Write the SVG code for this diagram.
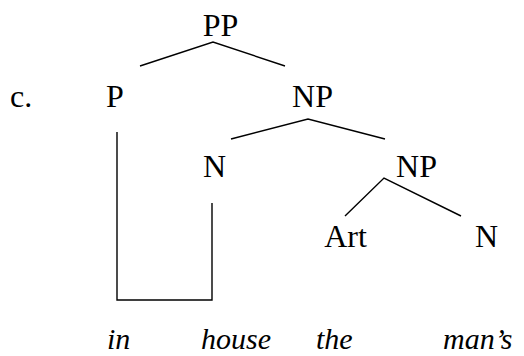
<svg xmlns="http://www.w3.org/2000/svg" width="524" height="356" viewBox="0 0 524 356">
<style>
.lbl{font-family:"Liberation Serif","Times New Roman",serif;font-size:32px;fill:#000;text-anchor:middle}
.w{font-family:"Liberation Serif","Times New Roman",serif;font-size:30px;font-style:italic;fill:#000}
.e{fill:none;stroke:#000;stroke-width:1.4}
</style>
<rect width="524" height="356" fill="#fff"/>
<g id="edges">
<polyline class="e" points="140,66 213,42 285,66"/>
<polyline class="e" points="231,139 308,119 385,139"/>
<polyline class="e" points="345,216 384,178 461,216"/>
<polyline class="e" points="117,132 117,300 212,300 212,203"/>
</g>
<g id="label-c"><text x="10" y="107" style="font-family:'Liberation Serif','Times New Roman',serif;font-size:32px">c.</text></g>
<g id="PP"><text class="lbl" x="220.5" y="36">PP</text></g>
<g id="P"><text class="lbl" x="115" y="107">P</text></g>
<g id="NP1"><text class="lbl" x="312.5" y="107">NP</text></g>
<g id="N1"><text class="lbl" x="214.5" y="177">N</text></g>
<g id="NP2"><text class="lbl" x="416.5" y="177">NP</text></g>
<g id="Art"><text class="lbl" x="345.5" y="247">Art</text></g>
<g id="N2"><text class="lbl" x="486.5" y="247">N</text></g>
<g id="words">
<text class="w" x="107" y="349">in</text>
<text class="w" x="201" y="349">house</text>
<text class="w" x="316" y="349">the</text>
<text class="w" x="443" y="349">man’s</text>
</g>
</svg>
